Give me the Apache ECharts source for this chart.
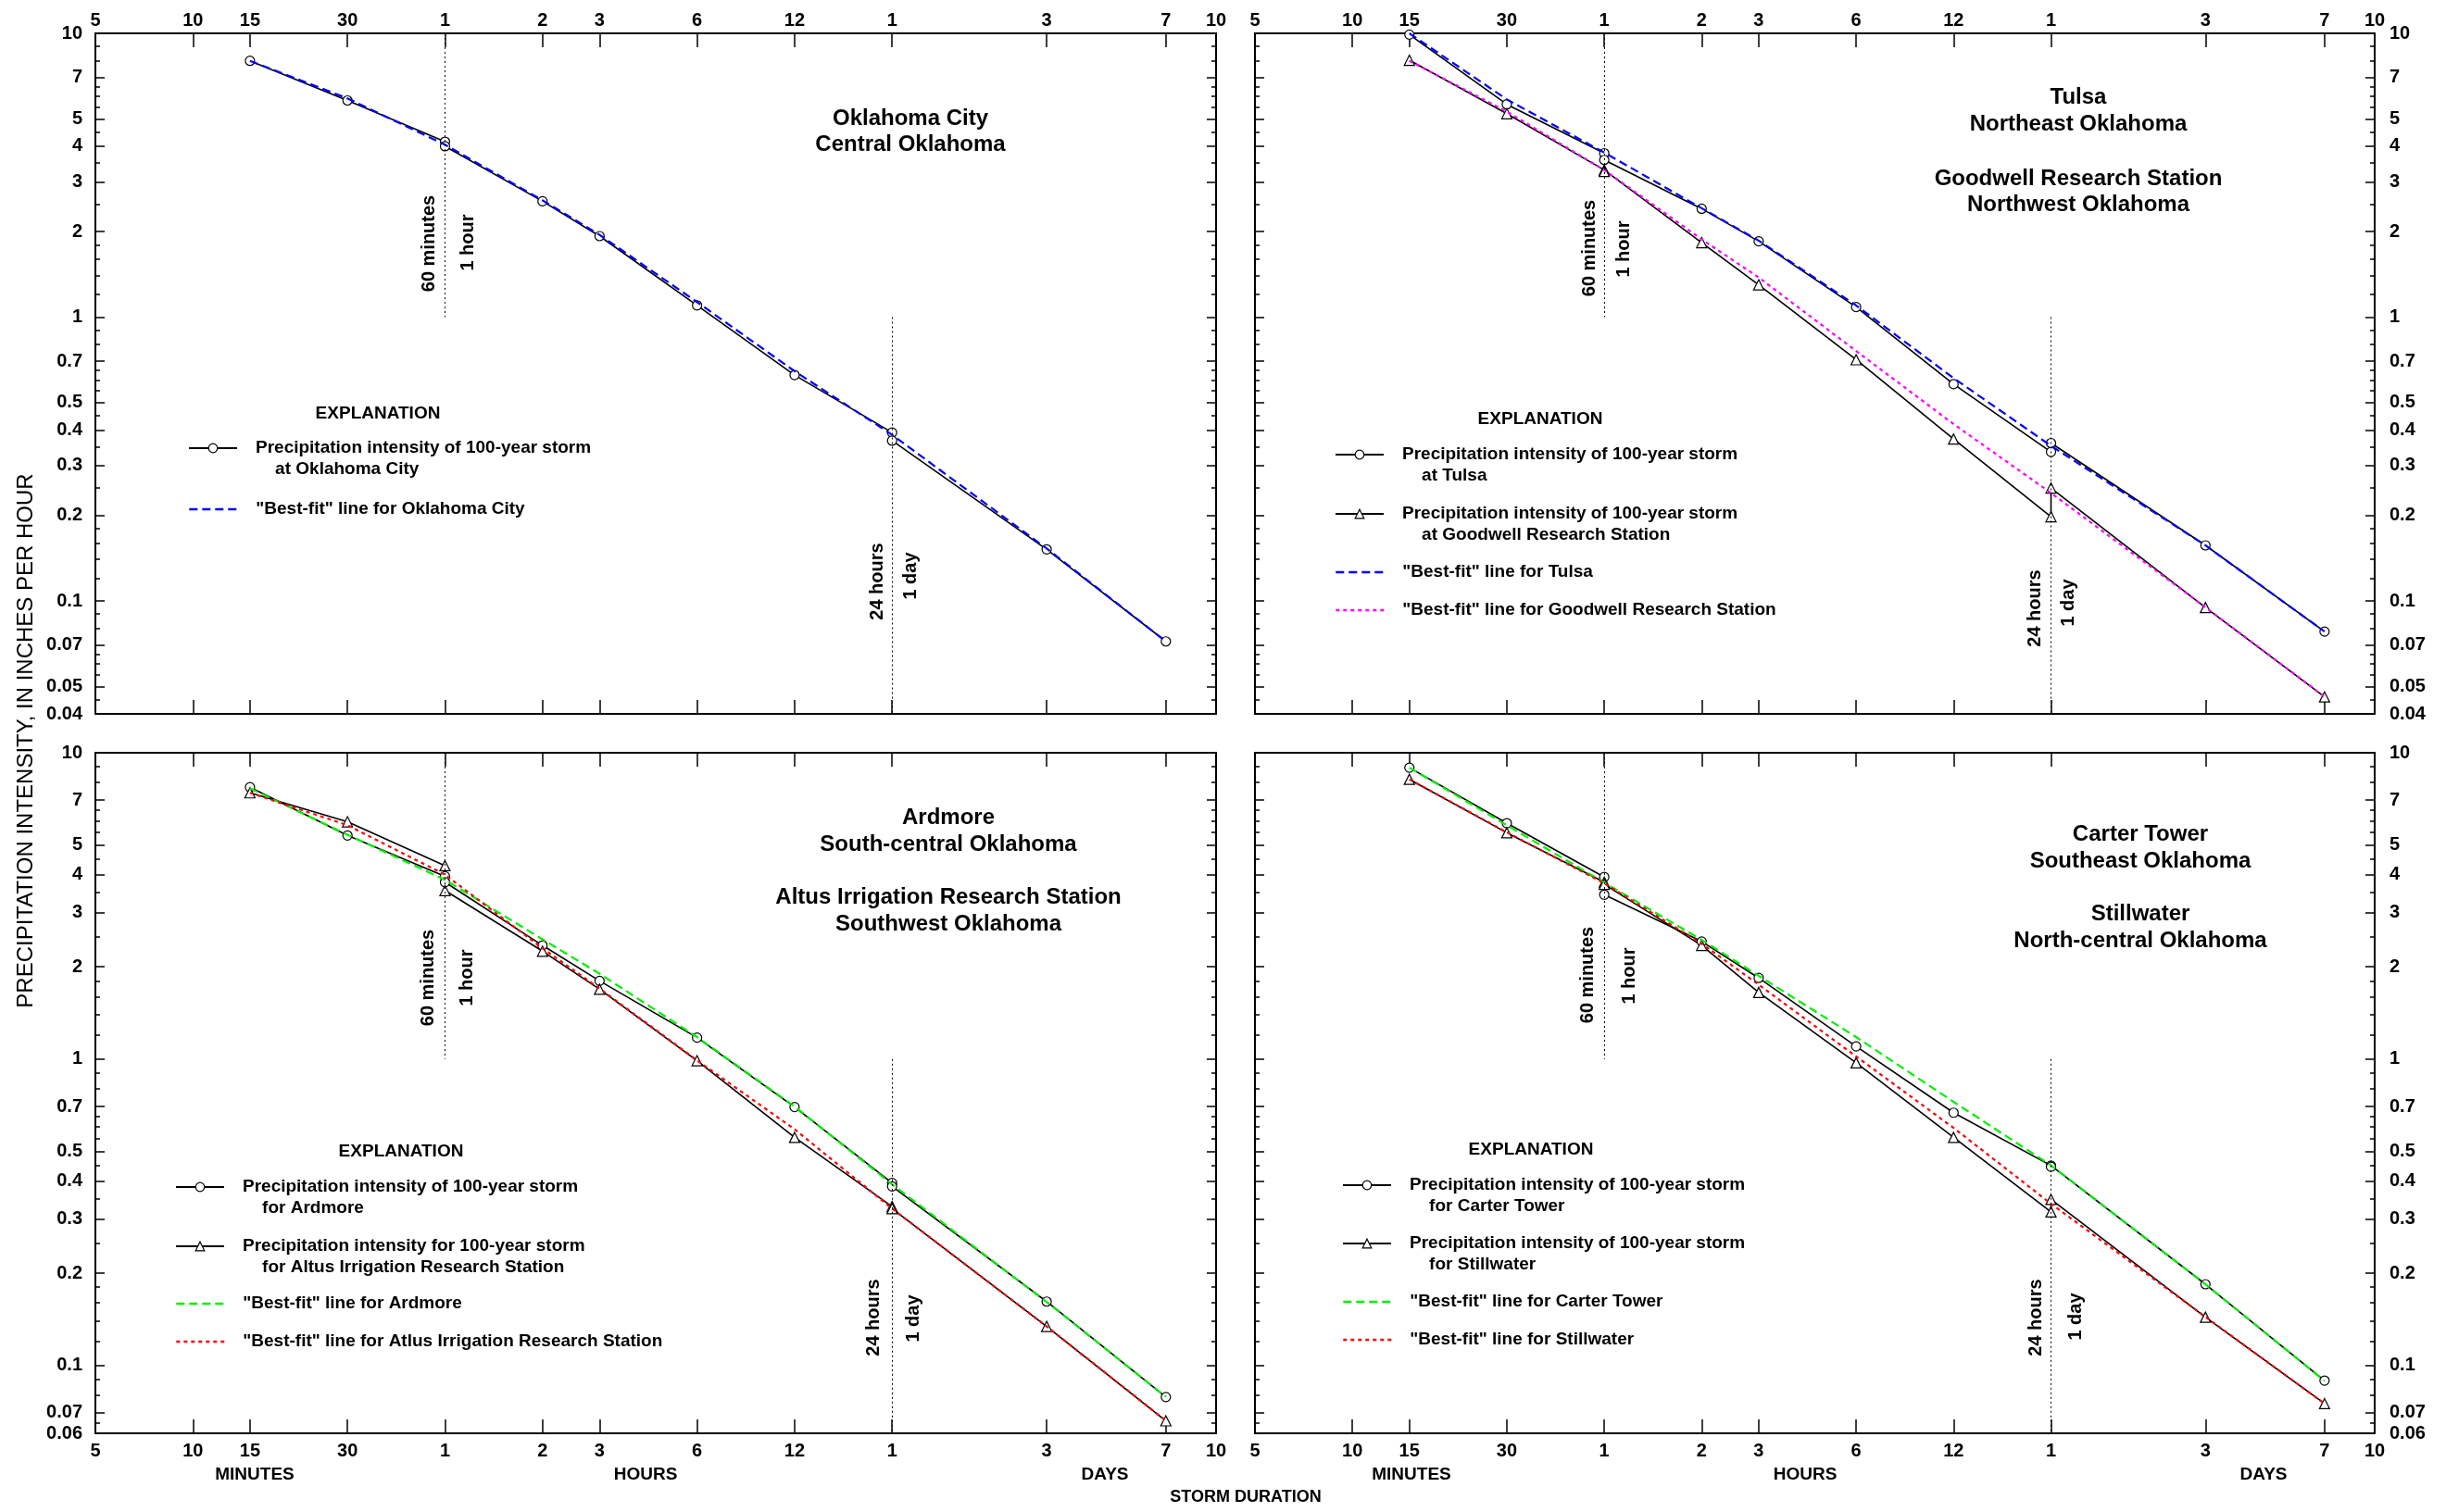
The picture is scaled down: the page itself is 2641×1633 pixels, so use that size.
<!DOCTYPE html>
<html>
<head>
<meta charset="utf-8">
<title>Precipitation intensity of 100-year storms, Oklahoma</title>
<script src="https://cdn.jsdelivr.net/npm/echarts@6/dist/echarts.min.js"></script>
<style>
  html, body { margin: 0; padding: 0; background: #fff; }
  #chart { width: 2641px; height: 1633px; }
</style>
</head>
<body>
<div id="chart"></div>
<script>
// storm durations, in minutes
var minutesX = [15, 30, 60];
var hoursX = [60, 120, 180, 360, 720, 1440];
var daysX = [1440, 4320, 10080];
var fitX = [15, 30, 60, 120, 180, 360, 720, 1440, 4320, 10080];
var guideX = [60, 1440];

// x axis ticks and labels (minutes -> hours -> days)
var xLabelValues = [5, 10, 15, 30, 60, 120, 180, 360, 720, 1440, 4320, 10080, 14400];
var xLabelText = ['5', '10', '15', '30', '1', '2', '3', '6', '12', '1', '3', '7', '10'];
var xTickValues = [10, 15, 30, 60, 120, 180, 360, 720, 1440, 4320, 10080];

// y axis ticks, inches per hour
var yMajorTop = [0.04, 0.05, 0.07, 0.1, 0.2, 0.3, 0.4, 0.5, 0.7, 1, 2, 3, 4, 5, 7, 10];
var yMajorBottom = [0.06, 0.07, 0.1, 0.2, 0.3, 0.4, 0.5, 0.7, 1, 2, 3, 4, 5, 7, 10];
var yMinor = [0.045, 0.055, 0.06, 0.065, 0.08, 0.09, 0.12, 0.14, 0.16, 0.18, 0.25, 0.35, 0.45,
              0.55, 0.6, 0.65, 0.8, 0.9, 1.2, 1.4, 1.6, 1.8, 2.5, 3.5, 4.5, 5.5, 6, 6.5, 8, 9];

// Oklahoma City
var okcMin = [8.0, 5.8, 4.15];
var okcHr = [4.0, 2.56, 1.93, 1.10, 0.625, 0.392];
var okcDay = [0.367, 0.152, 0.072];
var okcFit = [8.0, 5.9, 4.05, 2.58, 1.95, 1.13, 0.645, 0.385, 0.153, 0.072];

// Tulsa
var tulMin = [9.9, 5.62, 3.78];
var tulHr = [3.58, 2.41, 1.85, 1.085, 0.581, 0.335];
var tulDay = [0.36, 0.157, 0.078];
var tulFit = [10.0, 5.85, 3.8, 2.42, 1.86, 1.1, 0.61, 0.352, 0.157, 0.078];

// Goodwell Research Station
var gooMin = [8.04, 5.21, 3.3];
var gooHr = [3.26, 1.83, 1.30, 0.708, 0.372, 0.198];
var gooDay = [0.25, 0.0948, 0.0459];
var gooFit = [8.0, 5.3, 3.3, 1.88, 1.38, 0.76, 0.42, 0.24, 0.095, 0.046];

// Ardmore
var ardMin = [7.72, 5.37, 3.95];
var ardHr = [3.78, 2.35, 1.80, 1.175, 0.697, 0.394];
var ardDay = [0.384, 0.1615, 0.0788];
var ardFit = [7.65, 5.4, 3.85, 2.46, 1.90, 1.18, 0.70, 0.39, 0.161, 0.079];

// Altus Irrigation Research Station
var altMin = [7.40, 5.95, 4.28];
var altHr = [3.55, 2.25, 1.69, 0.988, 0.555, 0.33];
var altDay = [0.325, 0.134, 0.0659];
var altFit = [7.4, 5.8, 4.0, 2.3, 1.70, 0.99, 0.59, 0.325, 0.134, 0.066];

// Carter Tower
var carMin = [8.94, 5.89, 3.93];
var carHr = [3.44, 2.42, 1.84, 1.10, 0.668, 0.449];
var carDay = [0.445, 0.184, 0.0892];
var carFit = [8.94, 5.8, 3.77, 2.45, 1.87, 1.18, 0.725, 0.45, 0.184, 0.089];

// Stillwater
var stiMin = [8.19, 5.48, 3.78];
var stiHr = [3.72, 2.35, 1.65, 0.972, 0.555, 0.317];
var stiDay = [0.348, 0.1436, 0.075];
var stiFit = [8.19, 5.5, 3.75, 2.38, 1.75, 1.02, 0.596, 0.337, 0.144, 0.075];

var FONT = '"Liberation Sans", Arial, Helvetica, sans-serif';

var panels = [
    { left: 103,  top: 36,  width: 1210, height: 735, yMin: 0.04, yMajor: yMajorTop,    xLab: 'top',    yLab: 'left' },
    { left: 1355, top: 36,  width: 1209, height: 735, yMin: 0.04, yMajor: yMajorTop,    xLab: 'top',    yLab: 'right' },
    { left: 103,  top: 813, width: 1210, height: 735, yMin: 0.06, yMajor: yMajorBottom, xLab: 'bottom', yLab: 'left' },
    { left: 1355, top: 813, width: 1209, height: 735, yMin: 0.06, yMajor: yMajorBottom, xLab: 'bottom', yLab: 'right' }
];

function xLabelFmt(v) {
    for (var k = 0; k < xLabelValues.length; k++) {
        if (Math.abs(xLabelValues[k] - v) / xLabelValues[k] < 1e-6) return xLabelText[k];
    }
    return '';
}

function yLabelFmt(v) {
    return String(+Number(v).toPrecision(6));
}

var grid = [], xAxis = [], yAxis = [];
panels.forEach(function(pn, p) {
    grid.push({ left: pn.left, top: pn.top, width: pn.width, height: pn.height,
                containLabel: false, outerBoundsMode: 'none' });

    ['bottom', 'top'].forEach(function(pos) {
        xAxis.push({
            gridIndex: p, type: 'log', logBase: 10, min: 5, max: 14400, position: pos,
            axisLine: { show: true, onZero: false, lineStyle: { color: '#000', width: 2 } },
            axisTick: { show: true, inside: true, length: 15, customValues: xTickValues,
                        lineStyle: { color: '#000', width: 1.5 } },
            axisLabel: { show: pos === pn.xLab, customValues: xLabelValues, formatter: xLabelFmt,
                         margin: pos === 'top' ? 4 : 9, fontSize: 20, fontWeight: 'bold',
                         fontFamily: FONT, color: '#000', showMinLabel: true, showMaxLabel: true,
                         hideOverlap: false },
            splitLine: { show: false }, minorTick: { show: false }, minorSplitLine: { show: false }
        });
    });

    ['left', 'right'].forEach(function(pos) {
        [true, false].forEach(function(major) {
            yAxis.push({
                gridIndex: p, type: 'log', logBase: 10, min: pn.yMin, max: 10, position: pos,
                axisLine: { show: major, onZero: false, lineStyle: { color: '#000', width: 2 } },
                axisTick: { show: true, inside: true, length: major ? 10 : 5,
                            customValues: major ? pn.yMajor : yMinor,
                            lineStyle: { color: '#000', width: 1.5 } },
                axisLabel: { show: major && pos === pn.yLab, customValues: pn.yMajor,
                             formatter: yLabelFmt, margin: pos === 'left' ? 14 : 16,
                             fontSize: 20, fontWeight: 'bold', fontFamily: FONT, color: '#000',
                             showMinLabel: true, showMaxLabel: true, hideOverlap: false },
                splitLine: { show: false }, minorTick: { show: false }, minorSplitLine: { show: false }
            });
        });
    });
});

function obsSeries(name, p, symbol, minV, hrV, dayV, guides) {
    var data = [];
    minutesX.forEach(function(x, k) { data.push([x, minV[k]]); });
    hoursX.forEach(function(x, k) { data.push([x, hrV[k]]); });
    daysX.forEach(function(x, k) { data.push([x, dayV[k]]); });
    var s = {
        name: name, type: 'line', xAxisIndex: 2 * p, yAxisIndex: 4 * p,
        data: data, symbol: symbol, symbolSize: symbol === 'triangle' ? 11 : 10,
        lineStyle: { color: '#000', width: 1.6 },
        itemStyle: { color: '#fff', borderColor: '#000', borderWidth: 1.2 },
        z: 2, silent: true
    };
    if (guides) {
        // dotted guides at 60 minutes (upper half) and 1 day (lower half)
        s.markLine = {
            silent: true, symbol: ['none', 'none'], label: { show: false },
            lineStyle: { color: '#000', type: [2, 3], width: 1 },
            data: [
                [{ coord: [guideX[0], 10] }, { coord: [guideX[0], 1] }],
                [{ coord: [guideX[1], 1] }, { coord: [guideX[1], panels[p].yMin] }]
            ]
        };
    }
    return s;
}

function fitSeries(name, p, color, dash, vals) {
    return {
        name: name, type: 'line', xAxisIndex: 2 * p, yAxisIndex: 4 * p,
        data: fitX.map(function(x, k) { return [x, vals[k]]; }),
        symbol: 'none', lineStyle: { color: color, width: 2.2, type: dash },
        z: 3, silent: true
    };
}

var okcName = 'Precipitation intensity of 100-year storm\n    at Oklahoma City';
var okcFitName = '"Best-fit" line for Oklahoma City';
var tulName = 'Precipitation intensity of 100-year storm\n    at Tulsa';
var gooName = 'Precipitation intensity of 100-year storm\n    at Goodwell Research Station';
var tulFitName = '"Best-fit" line for Tulsa';
var gooFitName = '"Best-fit" line for Goodwell Research Station';
var ardName = 'Precipitation intensity of 100-year storm\n    for Ardmore';
var altName = 'Precipitation intensity for 100-year storm\n    for Altus Irrigation Research Station';
var ardFitName = '"Best-fit" line for Ardmore';
var altFitName = '"Best-fit" line for Atlus Irrigation Research Station';
var carName = 'Precipitation intensity of 100-year storm\n    for Carter Tower';
var stiName = 'Precipitation intensity of 100-year storm\n    for Stillwater';
var carFitName = '"Best-fit" line for Carter Tower';
var stiFitName = '"Best-fit" line for Stillwater';

var DASH = [9, 5], DOT = [4, 4];

var series = [
    obsSeries(okcName, 0, 'circle', okcMin, okcHr, okcDay, true),
    fitSeries(okcFitName, 0, '#0000ff', DASH, okcFit),

    obsSeries(tulName, 1, 'circle', tulMin, tulHr, tulDay, true),
    obsSeries(gooName, 1, 'triangle', gooMin, gooHr, gooDay, false),
    fitSeries(tulFitName, 1, '#0000ff', DASH, tulFit),
    fitSeries(gooFitName, 1, '#ff00ff', DOT, gooFit),

    obsSeries(ardName, 2, 'circle', ardMin, ardHr, ardDay, true),
    obsSeries(altName, 2, 'triangle', altMin, altHr, altDay, false),
    fitSeries(ardFitName, 2, '#00f000', DASH, ardFit),
    fitSeries(altFitName, 2, '#ff0000', DOT, altFit),

    obsSeries(carName, 3, 'circle', carMin, carHr, carDay, true),
    obsSeries(stiName, 3, 'triangle', stiMin, stiHr, stiDay, false),
    fitSeries(carFitName, 3, '#00f000', DASH, carFit),
    fitSeries(stiFitName, 3, '#ff0000', DOT, stiFit)
];

// one legend per explanation entry so each can sit where the original has it
var OBS_ICON = { itemStyle: { color: '#fff', borderColor: '#000', borderWidth: 1.2 },
                 lineStyle: { color: '#000', width: 2, type: 'solid' } };
function fitIcon(color, dash) {
    return { itemStyle: { opacity: 0 }, lineStyle: { color: color, width: 2.6, type: dash } };
}

var legendSpecs = [
    [okcName, 203, 484, OBS_ICON], [okcFitName, 203, 550, fitIcon('#0000ff', DASH)],
    [tulName, 1441, 491, OBS_ICON], [gooName, 1441, 555, OBS_ICON],
    [tulFitName, 1441, 618, fitIcon('#0000ff', DASH)], [gooFitName, 1441, 659, fitIcon('#ff00ff', DOT)],
    [ardName, 189, 1282, OBS_ICON], [altName, 189, 1346, OBS_ICON],
    [ardFitName, 189, 1408, fitIcon('#00f000', DASH)], [altFitName, 189, 1449, fitIcon('#ff0000', DOT)],
    [carName, 1449, 1280, OBS_ICON], [stiName, 1449, 1343, OBS_ICON],
    [carFitName, 1449, 1406, fitIcon('#00f000', DASH)], [stiFitName, 1449, 1447, fitIcon('#ff0000', DOT)]
];

var legend = legendSpecs.map(function(it) {
    var twoLine = it[0].indexOf('\n') >= 0;
    return {
        left: it[1], top: it[2] - (twoLine ? 34.5 : 11.5), padding: 0,
        orient: 'vertical', itemWidth: 52, itemHeight: 12, selectedMode: false,
        formatter: function(n) { return n.indexOf('\n') >= 0 ? '\n' + n : n; },
        textStyle: { fontFamily: FONT, fontWeight: 'bold', fontSize: 19, lineHeight: 23,
                     color: '#000', padding: [0, 0, 0, 15] },
        data: [{ name: it[0], itemStyle: it[3].itemStyle, lineStyle: it[3].lineStyle }]
    };
});

function txt(text, x, y, size, rotate, weight) {
    return {
        type: 'text', x: x, y: y, rotation: rotate ? Math.PI / 2 : 0, silent: true,
        style: { text: text, fontSize: size, fontWeight: weight || 'bold', fontFamily: FONT,
                 fill: '#000', textAlign: 'center', textVerticalAlign: 'middle' }
    };
}

var graphic = [
    txt('Oklahoma City', 983, 128, 24), txt('Central Oklahoma', 983, 156, 24),
    txt('Tulsa', 2244, 105, 24), txt('Northeast Oklahoma', 2244, 134, 24),
    txt('Goodwell Research Station', 2244, 193, 24), txt('Northwest Oklahoma', 2244, 221, 24),
    txt('Ardmore', 1024, 883, 24), txt('South-central Oklahoma', 1024, 912, 24),
    txt('Altus Irrigation Research Station', 1024, 969, 24), txt('Southwest Oklahoma', 1024, 998, 24),
    txt('Carter Tower', 2311, 901, 24), txt('Southeast Oklahoma', 2311, 930, 24),
    txt('Stillwater', 2311, 987, 24), txt('North-central Oklahoma', 2311, 1016, 24),

    txt('EXPLANATION', 408, 447, 19), txt('EXPLANATION', 1663, 453, 19),
    txt('EXPLANATION', 433, 1244, 19), txt('EXPLANATION', 1653, 1242, 19),

    txt('60 minutes', 463, 263, 20, true), txt('1 hour', 505, 262, 20, true),
    txt('24 hours', 947, 628, 20, true), txt('1 day', 983, 622, 20, true),
    txt('60 minutes', 1716, 268, 20, true), txt('1 hour', 1753, 269, 20, true),
    txt('24 hours', 2197, 657, 20, true), txt('1 day', 2233, 651, 20, true),
    txt('60 minutes', 462, 1056, 20, true), txt('1 hour', 504, 1056, 20, true),
    txt('24 hours', 943, 1423, 20, true), txt('1 day', 986, 1424, 20, true),
    txt('60 minutes', 1714, 1053, 20, true), txt('1 hour', 1759, 1054, 20, true),
    txt('24 hours', 2198, 1423, 20, true), txt('1 day', 2241, 1422, 20, true),

    txt('MINUTES', 275, 1593, 19), txt('HOURS', 697, 1593, 19), txt('DAYS', 1193, 1593, 19),
    txt('MINUTES', 1524, 1593, 19), txt('HOURS', 1949, 1593, 19), txt('DAYS', 2444, 1593, 19),
    txt('STORM DURATION', 1345, 1617, 18),
    txt('PRECIPITATION INTENSITY, IN INCHES PER HOUR', 28, 800, 24, true, 'normal')
];

var myChart = echarts.init(document.getElementById('chart'), null, { renderer: 'canvas' });
myChart.setOption({
    animation: false,
    backgroundColor: '#fff',
    grid: grid,
    xAxis: xAxis,
    yAxis: yAxis,
    legend: legend,
    graphic: graphic,
    series: series
});
</script>
</body>
</html>
